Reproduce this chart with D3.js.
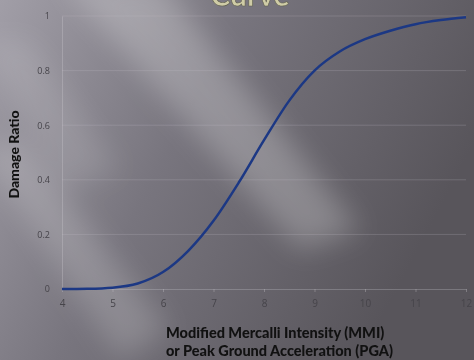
<!DOCTYPE html>
<html>
<head>
<meta charset="utf-8">
<script src="https://cdn.jsdelivr.net/npm/d3@7"></script>
<style>
  html, body { margin: 0; padding: 0; background: #6e6b72; }
  #chart { width: 474px; height: 360px; }
</style>
</head>
<body>
<div id="chart"></div>
<script>
// Data
const intensity = [4, 4.5, 5, 5.5, 6, 6.5, 7, 7.5, 8, 8.5, 9, 9.5, 10, 10.5, 11, 11.5, 12];
const damageRatio = [0, 0.001, 0.005, 0.02, 0.062, 0.14, 0.25, 0.39, 0.545, 0.69, 0.80, 0.87, 0.915, 0.946, 0.97, 0.985, 0.995];
const xTicks = [4, 5, 6, 7, 8, 9, 10, 11, 12];
const yTicks = [0, 0.2, 0.4, 0.6, 0.8, 1];
const yTickLabels = ["0", "0.2", "0.4", "0.6", "0.8", "1"];

const width = 474, height = 360;
const margin = { top: 16, right: 8, bottom: 71, left: 62 };

const svg = d3.select("#chart")
  .append("svg")
  .attr("width", width)
  .attr("height", height);

// Background: grey gradient with soft diagonal light streaks
const defs = svg.append("defs");
const bg = defs.append("linearGradient")
  .attr("id", "bg")
  .attr("x1", "0%").attr("y1", "0%")
  .attr("x2", "100%").attr("y2", "40%");
bg.append("stop").attr("offset", "0%").attr("stop-color", "#a19ea7");
bg.append("stop").attr("offset", "45%").attr("stop-color", "#78757e");
bg.append("stop").attr("offset", "100%").attr("stop-color", "#58555b");

defs.append("filter").attr("id", "blur")
  .attr("x", "-50%").attr("y", "-50%").attr("width", "200%").attr("height", "200%")
  .append("feGaussianBlur").attr("stdDeviation", 14);

defs.append("filter").attr("id", "soft")
  .append("feGaussianBlur").attr("stdDeviation", 0.6);

svg.append("rect")
  .attr("width", width).attr("height", height)
  .attr("fill", "url(#bg)");

const streaks = svg.append("g").attr("filter", "url(#blur)");
streaks.append("path")
  .attr("d", "M60,-20 L160,-20 L360,230 L300,250 Z")
  .attr("fill", "#ffffff").attr("opacity", 0.24);
streaks.append("path")
  .attr("d", "M-20,150 L20,140 L170,330 L120,360 Z")
  .attr("fill", "#ffffff").attr("opacity", 0.18);
streaks.append("path")
  .attr("d", "M-20,40 L30,40 L120,170 L60,190 Z")
  .attr("fill", "#ffffff").attr("opacity", 0.12);

// Title (cut off at top, as in the slide)
svg.append("text")
  .attr("x", 250)
  .attr("y", 6)
  .attr("text-anchor", "middle")
  .attr("font-family", "Lato, sans-serif")
  .attr("font-weight", "bold")
  .attr("font-size", "30px")
  .attr("fill", "#cfcca6")
  .attr("stroke", "#5e5d4c")
  .attr("stroke-width", 0.6)
  .attr("filter", "url(#soft)")
  .text("Curve");

// Scales
const x = d3.scaleLinear()
  .domain([4, 12])
  .range([margin.left, width - margin.right]);

const y = d3.scaleLinear()
  .domain([0, 1])
  .range([height - margin.bottom, margin.top]);

// Gridlines
svg.append("g")
  .selectAll("line")
  .data(yTicks.slice(1))
  .join("line")
  .attr("x1", x(4)).attr("x2", x(12))
  .attr("y1", d => y(d)).attr("y2", d => y(d))
  .attr("stroke", "#c8c6cc")
  .attr("stroke-opacity", 0.22)
  .attr("stroke-width", 1);

// Y axis
const yAxis = svg.append("g")
  .attr("transform", `translate(${margin.left},0)`)
  .call(d3.axisLeft(y).tickValues(yTicks).tickFormat((d, i) => yTickLabels[i]).tickSize(0).tickPadding(12));
yAxis.select(".domain").attr("stroke", "#c8c6cc").attr("stroke-opacity", 0.35);
yAxis.selectAll("text")
  .attr("font-family", "'Open Sans', sans-serif")
  .attr("font-size", "9px")
  .attr("fill", "#46444a");

// X axis
const xAxis = svg.append("g")
  .attr("transform", `translate(0,${y(0)})`)
  .call(d3.axisBottom(x).tickValues(xTicks).tickSize(3).tickSizeOuter(0).tickPadding(8));
xAxis.select(".domain").attr("stroke", "#c8c6cc").attr("stroke-opacity", 0.3);
xAxis.selectAll(".tick line").attr("stroke", "#c8c6cc").attr("stroke-opacity", 0.35);
xAxis.selectAll("text")
  .attr("font-family", "'Open Sans', sans-serif")
  .attr("font-size", "10px")
  .attr("fill", "#46444a");

// Curve
const line = d3.line()
  .x((d, i) => x(intensity[i]))
  .y(d => y(d))
  .curve(d3.curveMonotoneX);

svg.append("path")
  .datum(damageRatio)
  .attr("d", line)
  .attr("fill", "none")
  .attr("stroke", "#1c3884")
  .attr("stroke-width", 2.5);

// Axis titles
svg.append("text")
  .attr("transform", `translate(19,${(margin.top + y(0)) / 2 + 2}) rotate(-90)`)
  .attr("text-anchor", "middle")
  .attr("font-family", "Lato, sans-serif")
  .attr("font-weight", "900")
  .attr("font-size", "14px")
  .attr("fill", "#111")
  .text("Damage Ratio");

const xTitle = svg.append("text")
  .attr("x", 166)
  .attr("font-family", "Lato, sans-serif")
  .attr("font-weight", "900")
  .attr("font-size", "14.5px")
  .attr("fill", "#111");
xTitle.append("tspan").attr("x", 166).attr("y", 338).text("Modified Mercalli Intensity (MMI)");
xTitle.append("tspan").attr("x", 166).attr("y", 356).text("or Peak Ground Acceleration (PGA)");
</script>
</body>
</html>
